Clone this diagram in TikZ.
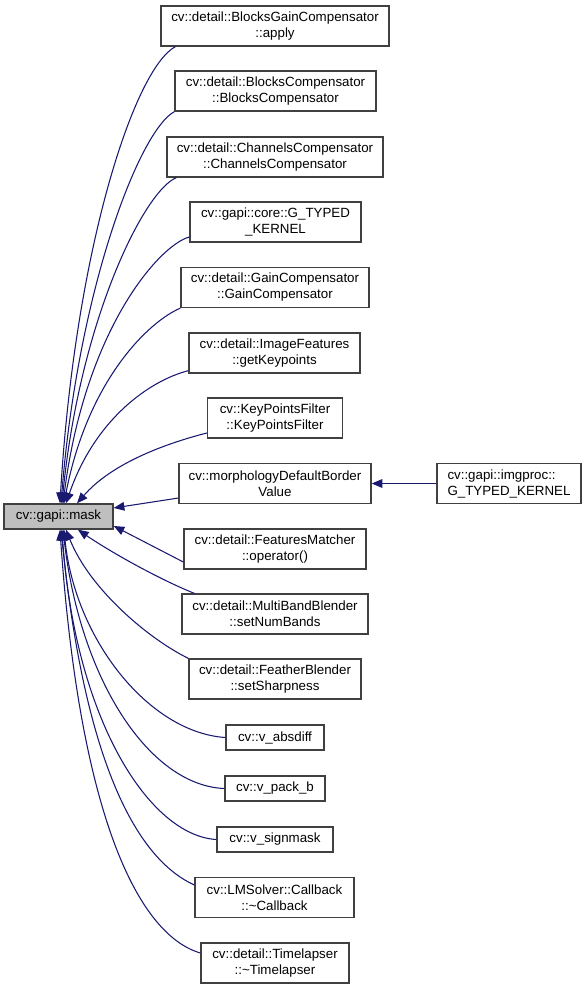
\documentclass[tikz,border=0pt]{standalone}
\usepackage{fontspec}
\setmainfont{Liberation Sans}
\usetikzlibrary{arrows.meta}
\definecolor{midnightblue}{RGB}{25,25,112}
\definecolor{grey75}{RGB}{191,191,191}
\definecolor{boxline}{RGB}{64,64,64}
\begin{document}
\begin{tikzpicture}[x=0.75pt,y=-0.75pt,
    font=\fontsize{10}{12}\selectfont,
    box/.style={draw=boxline, line width=1pt, fill=white, align=center,
      inner xsep=2pt, inner ysep=1pt, minimum height=30pt},
    onebox/.style={box, minimum height=18.75pt},
    edge/.style={draw=midnightblue, line width=0.8pt,
      -{Triangle[length=8pt,width=6.5pt]}}]
  \useasboundingbox (0,0) rectangle (588,989);

  \node[box, minimum width=171pt] (apply) at (275,26)
    {cv::detail::BlocksGainCompensator\\::apply};
  \node[box, minimum width=150.75pt] (blocks) at (275.5,91)
    {cv::detail::BlocksCompensator\\::BlocksCompensator};
  \node[box, minimum width=162pt] (channels) at (275,157)
    {cv::detail::ChannelsCompensator\\::ChannelsCompensator};
  \node[box, minimum width=128.25pt] (corekernel) at (275.5,222)
    {cv::gapi::core::G\_TYPED\\\_KERNEL};
  \node[box, minimum width=141pt] (gain) at (275,287.5)
    {cv::detail::GainCompensator\\::GainCompensator};
  \node[box, minimum width=128.25pt] (features) at (274.5,353)
    {cv::detail::ImageFeatures\\::getKeypoints};
  \node[box, minimum width=101.25pt] (kpfilter) at (275,418)
    {cv::KeyPointsFilter\\::KeyPointsFilter};
  \node[box, minimum width=144pt] (morph) at (275,483.5)
    {cv::morphologyDefaultBorder\\Value};
  \node[box, minimum width=108pt, align=left] (imgproc) at (509,483.5)
    {cv::gapi::imgproc::\\G\_TYPED\_KERNEL};
  \node[onebox, minimum width=81.75pt, fill=grey75] (mask) at (58.5,516.5)
    {cv::gapi::mask};
  \node[box, minimum width=136.5pt] (matcher) at (275,549)
    {cv::detail::FeaturesMatcher\\::operator()};
  \node[box, minimum width=139.5pt] (multiband) at (275,614)
    {cv::detail::MultiBandBlender\\::setNumBands};
  \node[box, minimum width=129pt] (feather) at (275,679)
    {cv::detail::FeatherBlender\\::setSharpness};
  \node[onebox, minimum width=73.5pt] (absdiff) at (275,737.5)
    {cv::v\_absdiff};
  \node[onebox, minimum width=75pt] (packb) at (275,788.5)
    {cv::v\_pack\_b};
  \node[onebox, minimum width=87pt] (signmask) at (275,839.5)
    {cv::v\_signmask};
  \node[box, minimum width=119.25pt] (callback) at (274.5,897.5)
    {cv::LMSolver::Callback\\::\textasciitilde Callback};
  \node[box, minimum width=111pt] (timelapser) at (275,963)
    {cv::detail::Timelapser\\::\textasciitilde Timelapser};

  \draw[edge] ([xshift=11.25pt]apply.south west)
    .. controls +(-41,22) and +(15,-254) .. ([xshift=1.1pt]mask.north);
  \draw[edge] (blocks.south west)
    .. controls +(-35,19) and +(17,-214) .. ([xshift=1.9pt]mask.north);
  \draw[edge] ([xshift=7.5pt]channels.south west)
    .. controls +(-32,13) and +(18,-184) .. ([xshift=2.6pt]mask.north);
  \draw[edge] ([yshift=-11.25pt]corekernel.west)
    .. controls +(-30,8) and +(22,-174) .. ([xshift=3.4pt]mask.north);
  \draw[edge] (gain.south west)
    .. controls +(-31,13) and +(24,-124) .. ([xshift=4.1pt]mask.north);
  \draw[edge] ([yshift=2.25pt]features.south west)
    .. controls +(-39,10) and +(29,-84) .. ([xshift=5.6pt]mask.north);
  \draw[edge] ([yshift=-11.25pt]kpfilter.west)
    .. controls +(-47,12) and +(33,-38) .. ([xshift=13.9pt]mask.north);
  \draw[edge] ([yshift=-10.9pt]morph.west) -- ([yshift=6.4pt]mask.east);
  \draw[edge] (imgproc.west) -- (morph.east);
  \draw[edge] ([yshift=-9.75pt]matcher.west) -- ([yshift=-7.1pt]mask.east);
  \draw[edge] ([xshift=9.75pt]multiband.north west)
    .. controls +(-35,-14) and +(32,22) .. ([xshift=14.6pt]mask.south);
  \draw[edge] (feather.north west)
    .. controls +(-39,-19) and +(24,60) .. ([xshift=5.6pt]mask.south);
  \draw[edge] (absdiff.west)
    .. controls +(-76,-5) and +(11,110) .. ([xshift=4.1pt]mask.south);
  \draw[edge] (packb.west)
    .. controls +(-75,-3) and +(17,150) .. ([xshift=3.4pt]mask.south);
  \draw[edge] (signmask.west)
    .. controls +(-67,-4) and +(13,190) .. ([xshift=2.6pt]mask.south);
  \draw[edge] ([yshift=9.4pt]callback.west)
    .. controls +(-55,-25) and +(24,240) .. ([xshift=1.9pt]mask.south);
  \draw[edge] ([yshift=7.5pt]timelapser.west)
    .. controls +(-61,-18) and +(20,290) .. ([xshift=1.1pt]mask.south);
\end{tikzpicture}
\end{document}
